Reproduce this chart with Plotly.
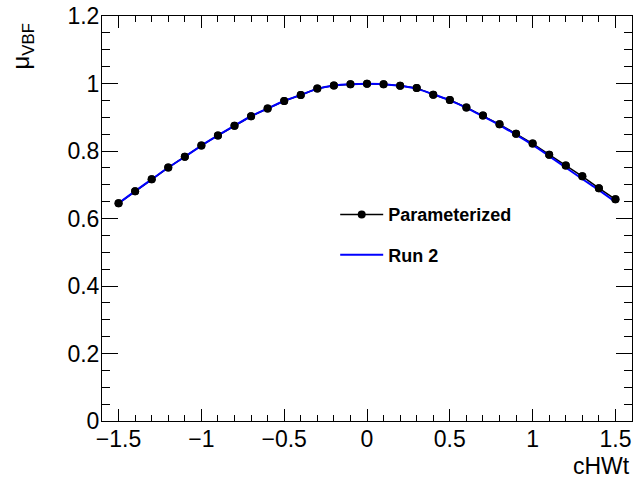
import plotly.graph_objects as go

x_vals = [-1.5, -1.4, -1.3, -1.2, -1.1, -1.0, -0.9, -0.8, -0.7, -0.6, -0.5, -0.4, -0.3, -0.2, -0.1,
          0.0, 0.1, 0.2, 0.3, 0.4, 0.5, 0.6, 0.7, 0.8, 0.9, 1.0, 1.1, 1.2, 1.3, 1.4, 1.5]
param_vals = [0.645, 0.681, 0.716, 0.751, 0.783, 0.816, 0.846, 0.875, 0.903, 0.926, 0.948, 0.966,
              0.985, 0.994, 0.998, 0.999, 0.998, 0.993, 0.987, 0.967, 0.951, 0.929, 0.905, 0.879,
              0.851, 0.822, 0.789, 0.757, 0.725, 0.690, 0.657]
run2_vals = [0.645, 0.681, 0.716, 0.751, 0.783, 0.816, 0.846, 0.875, 0.903, 0.926, 0.948, 0.966,
             0.984, 0.994, 0.998, 0.999, 0.998, 0.993, 0.984, 0.968, 0.950, 0.928, 0.903, 0.877,
             0.848, 0.818, 0.785, 0.751, 0.717, 0.684, 0.649]

x_ticks = [-1.5, -1.0, -0.5, 0.0, 0.5, 1.0, 1.5]
y_ticks = [0, 0.2, 0.4, 0.6, 0.8, 1.0, 1.2]

FONT = "Liberation Sans, Arial, Helvetica, sans-serif"

fig = go.Figure()
fig.add_trace(go.Scatter(
    x=x_vals, y=param_vals, mode="lines+markers", name="<b>Parameterized</b>",
    line=dict(color="black", width=1.5), marker=dict(color="black", size=8),
    legendgroup="a"))
fig.add_trace(go.Scatter(
    x=x_vals, y=run2_vals, mode="lines", name="<b>Run 2</b>",
    line=dict(color="#0000ff", width=2, shape="spline"), legendgroup="b"))
fig.add_trace(go.Scatter(
    x=x_vals, y=param_vals, mode="markers", showlegend=False,
    marker=dict(color="black", size=8), legendgroup="a"))

axis_common = dict(
    showline=True, linecolor="black", linewidth=1, mirror="ticks",
    ticks="inside", tickcolor="black", tickwidth=1,
    showgrid=False, zeroline=False,
    tickfont=dict(family=FONT, size=23, color="black"),
)

fig.update_xaxes(
    range=[-1.6, 1.6], tickvals=x_ticks, ticklen=12, ticklabelstandoff=-3,
    minor=dict(ticks="inside", ticklen=6, dtick=0.1, tick0=0, tickcolor="black", showgrid=False),
    **axis_common)
fig.update_yaxes(
    range=[0, 1.2], tickvals=y_ticks, ticklen=16, ticklabelstandoff=-3,
    minor=dict(ticks="inside", ticklen=8, dtick=0.05, tick0=0, tickcolor="black", showgrid=False),
    **axis_common)

fig.add_annotation(
    text="μ<sub>VBF</sub>", xref="paper", yref="paper", x=-0.15, y=0.985,
    xanchor="center", yanchor="top", textangle=-90, showarrow=False,
    font=dict(family=FONT, size=24, color="black"))
fig.add_annotation(
    text="cHWt", xref="paper", yref="paper", x=1.0, y=-0.111,
    xanchor="right", yanchor="middle", showarrow=False,
    font=dict(family=FONT, size=23, color="black"))

fig.update_layout(
    width=636, height=490,
    margin=dict(l=102, r=4, t=16, b=69),
    paper_bgcolor="white", plot_bgcolor="white",
    legend=dict(x=0.44, y=0.555, xanchor="left", yanchor="top", itemwidth=43,
                bgcolor="rgba(0,0,0,0)", font=dict(family=FONT, size=18, color="black"),
                traceorder="grouped", tracegroupgap=14),
)

fig.write_html("out.html")
